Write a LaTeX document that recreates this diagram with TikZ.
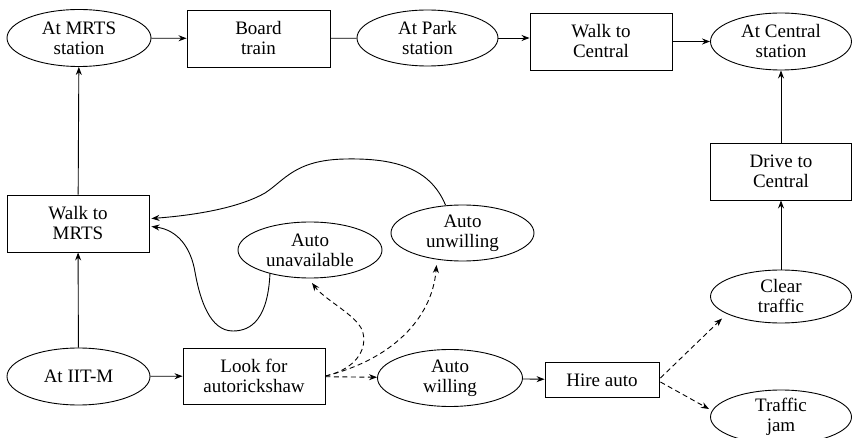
\documentclass[tikz,border=0pt]{standalone}
\usepackage{fontspec}
\setmainfont{Liberation Serif}
\newfontfamily\tnrfont{Liberation Serif}
\usetikzlibrary{shapes.geometric,arrows.meta,calc}
\newcommand\nodefont{\tnrfont\fontsize{19}{20}\selectfont}
\tikzset{
  ell/.style={draw, ellipse, inner sep=0pt, line width=0.9pt, align=center, font=\nodefont},
  box/.style={draw, rectangle, inner sep=0pt, line width=0.9pt, align=center, font=\nodefont},
  plain/.style={line width=0.9pt},
  arr/.style={plain, -{Stealth[length=8pt,width=6pt]}},
  darr/.style={arr, dash pattern=on 5pt off 3.5pt},
}
\begin{document}
\begin{tikzpicture}[x=1pt,y=-1pt]
\clip (0,0) rectangle (852,438);
\fill[white] (0,0) rectangle (852,438);
\useasboundingbox (0,0) rectangle (852,438);

\node[ell, minimum width=144pt, minimum height=57pt] (mrts) at (79,38) {At MRTS\\station};
\node[box, minimum width=143pt, minimum height=57pt] (board) at (258.5,38.5) {Board\\train};
\node[ell, minimum width=141pt, minimum height=56pt] (park) at (427.5,38) {At Park\\station};
\node[box, minimum width=142pt, minimum height=57pt] (walkc) at (601,41.5) {Walk to\\Central};
\node[ell, minimum width=141pt, minimum height=57pt] (central) at (781,41.5) {At Central\\station};
\node[box, minimum width=141pt, minimum height=57pt] (drive) at (781,171.5) {Drive to\\Central};
\node[ell, minimum width=141pt, minimum height=53pt] (clear) at (781,296.5) {Clear\\traffic};
\node[ell, minimum width=141pt, minimum height=54pt] (jam) at (781,417) {Traffic\\jam};
\node[box, minimum width=114pt, minimum height=35pt] (hire) at (602,380) {Hire auto};
\node[ell, minimum width=145pt, minimum height=57pt] (willing) at (450,378) {Auto\\willing};
\node[box, minimum width=142pt, minimum height=56pt] (look) at (254,376) {Look for\\autorickshaw};
\node[ell, minimum width=143pt, minimum height=57pt] (iitm) at (78.5,376.5) {At IIT-M};
\node[box, minimum width=142pt, minimum height=57pt] (walkm) at (78,223.5) {Walk to\\MRTS};
\node[ell, minimum width=144pt, minimum height=56pt] (unavail) at (310,250) {Auto\\unavailable};
\node[ell, minimum width=143pt, minimum height=56pt] (unwill) at (462.5,233) {Auto\\unwilling};

% solid connectors
\draw[arr] (mrts) -- (board);
\draw[plain] (board) -- (park);
\draw[arr] (park) -- (park -| walkc.west);
\draw[arr] (walkc) -- (central);
\draw[arr] (drive) -- (central);
\draw[arr] (clear) -- (drive);
\draw[arr] (walkm) -- (mrts);
\draw[arr] (iitm) -- (walkm);
\draw[arr] (iitm) -- (look);
\draw[arr] (willing) -- (hire);

% curved returns to Walk to MRTS
\draw[arr] ($(unwill)+(-17,-28)$) .. controls (430,168) and (395,158) .. (345,159)
  .. controls (295,160) and (285,180) .. (265,193)
  .. controls (235,210) and (185,216) .. ($(walkm.east)+(2,-5)$);
\draw[arr] ($(unavail)+(-40,23)$) .. controls (268,318) and (252,331) .. (233,331)
  .. controls (210,331) and (200,300) .. (195,272)
  .. controls (191,248) and (178,230) .. ($(walkm.east)+(2,3)$);

% dashed connectors
\draw[darr] (look) -- (willing);
\draw[darr] (look.east) .. controls (360,368) and (368,345) .. (362,330)
  .. controls (356,315) and (325,300) .. ($(unavail)+(2,33)$);
\draw[darr] (look.east) .. controls (390,360) and (432,320) .. ($(unwill)+(-26,32)$);
\draw[darr] ($(hire.east)+(1,-2)$) -- ($(clear)+(-59,22)$);
\draw[darr] ($(hire.east)+(1,2)$) -- ($(jam)+(-72,-8)$);
\end{tikzpicture}
\end{document}
